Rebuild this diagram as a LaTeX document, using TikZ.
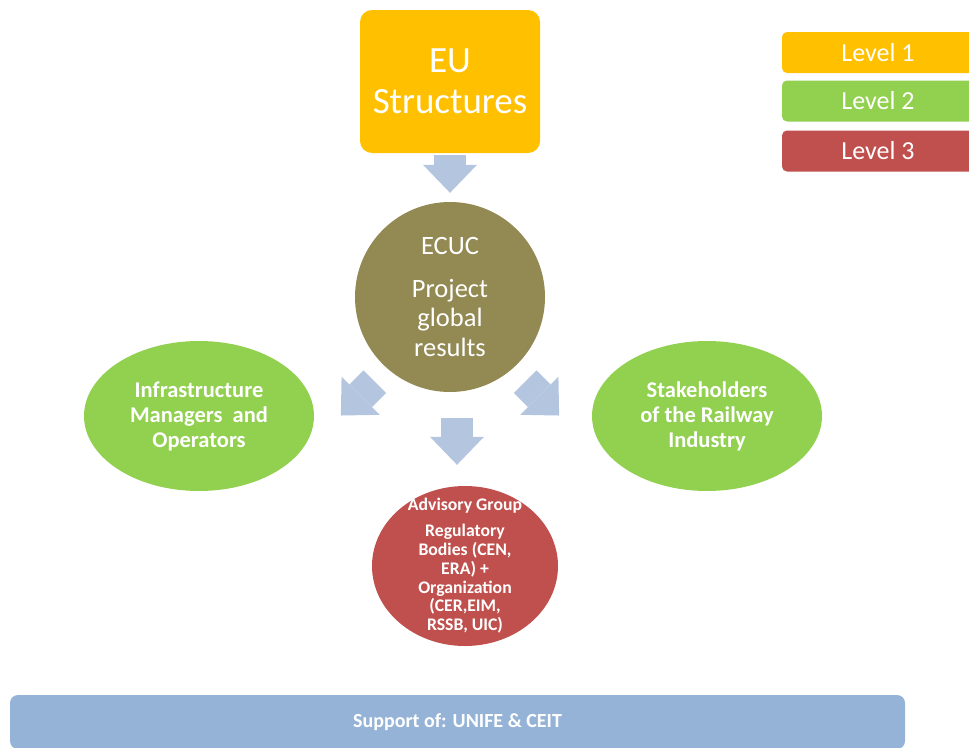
\documentclass[tikz,border=0pt]{standalone}
\usepackage{fontspec}
\setmainfont{Carlito}
\usetikzlibrary{shapes.geometric,arrows.meta}
\definecolor{levelone}{HTML}{FFC000}
\definecolor{leveltwo}{HTML}{92D050}
\definecolor{levelthree}{HTML}{C0504D}
\definecolor{ecucolive}{HTML}{938953}
\definecolor{arrowblue}{HTML}{B4C5E0}
\definecolor{supportblue}{HTML}{95B3D7}
\tikzstyle{eubox} = [fill=levelone, text=white, rectangle, rounded corners=12pt,
    minimum width=180, minimum height=143, align=center,
    font=\fontsize{37}{41}\selectfont]
\tikzstyle{ecucircle} = [fill=ecucolive, text=white, circle, minimum size=190,
    inner sep=0, align=center, font=\fontsize{26.5}{29.5}\selectfont]
\tikzstyle{greenoval} = [fill=leveltwo, text=white, ellipse, minimum width=230,
    minimum height=150, inner sep=0, align=center,
    font=\fontsize{22.5}{25}\selectfont\bfseries]
\tikzstyle{redoval} = [fill=levelthree, text=white, ellipse, minimum width=186,
    minimum height=160, inner xsep=8pt, inner ysep=-16pt, align=center,
    font=\fontsize{17.7}{18.8}\selectfont\bfseries]
\tikzstyle{levelbox} = [text=white, rectangle, rounded corners=5pt,
    minimum width=192, minimum height=41, font=\fontsize{26}{28}\selectfont]
\tikzstyle{supportbar} = [fill=supportblue, text=white, rectangle, rounded corners=8pt,
    minimum width=895, minimum height=54, font=\fontsize{20}{22}\selectfont\bfseries]
\tikzstyle{flowarrow} = [draw=arrowblue, line width=32pt,
    -{Triangle[length=28pt, width=54pt, line width=0pt]}]

\begin{document}
\begin{tikzpicture}[x=1pt, y=-1pt]
\useasboundingbox[fill=white] (0,0) rectangle (969,747);

% main structure
\node[eubox] (eu) at (450,81.5) {EU\\Structures};
\node[ecucircle] (ecuc) at (450,297) {ECUC\\[13pt]Project\\global\\results};
\node[greenoval] (infra) at (199,416) {Infrastructure\\Managers~ and\\Operators};
\node[greenoval] (stake) at (707,416) {Stakeholders\\of the Railway\\Industry};
\node[redoval] (advisory) at (465,566)
    {Advisory Group\\[7pt]Regulatory\\Bodies (CEN,\\ERA) +\\Organization\\(CER,EIM,\\RSSB, UIC)};

% legend
\node[levelbox, fill=levelone] (lvlone) at (878,52.5) {Level 1};
\node[levelbox, fill=leveltwo] (lvltwo) at (878,101) {Level 2};
\node[levelbox, fill=levelthree] (lvlthree) at (878,151) {Level 3};

\node[supportbar] (support) at (457.5,722) {Support of: UNIFE \& CEIT};

% arrows
\coordinate (infratip) at ([shift={(-135:66pt)}]ecuc.-131);
\coordinate (staketip) at ([shift={(-45:66pt)}]ecuc.-49);
\draw[flowarrow, shorten <=2pt, shorten >=9pt] (eu) -- (ecuc);
\draw[flowarrow, shorten <=26pt, shorten >=21pt] ([xshift=7pt]ecuc.south) -- ([xshift=-8pt]advisory.north);
\draw[flowarrow, shorten <=18pt] (ecuc.-131) -- (infratip);
\draw[flowarrow, shorten <=18pt] (ecuc.-49) -- (staketip);
\end{tikzpicture}
\end{document}
